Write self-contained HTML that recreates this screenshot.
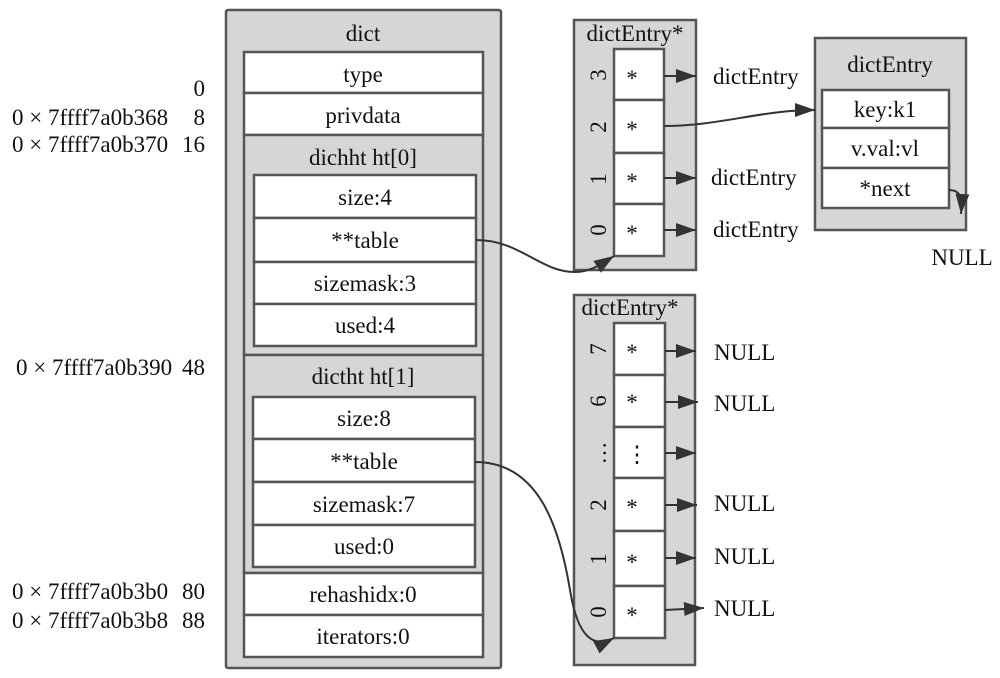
<!DOCTYPE html>
<html><head><meta charset="utf-8"><style>
html,body{margin:0;padding:0;background:#fff;}
svg{display:block;}
text{font-family:"Liberation Serif",serif;font-size:23px;fill:#111;}
</style></head><body>
<svg width="1000" height="678" viewBox="0 0 1000 678" xmlns="http://www.w3.org/2000/svg">
<defs>
<marker id="a" viewBox="0 0 10 10" refX="10" refY="5" markerWidth="20" markerHeight="14" markerUnits="userSpaceOnUse" orient="auto" preserveAspectRatio="none">
<path d="M0,0 L10,5 L0,10 z" fill="#333"/>
</marker>
</defs>
<g stroke="#555" stroke-width="2.5" fill="#d6d6d6">
<rect x="226" y="10" width="275" height="658" rx="2"/>
<rect x="244" y="52" width="239" height="41" fill="#fff"/>
<rect x="244" y="93" width="239" height="42" fill="#fff"/>
<rect x="244" y="135" width="239" height="220" fill="#d6d6d6"/>
<rect x="244" y="355" width="239" height="218" fill="#d6d6d6"/>
<rect x="244" y="573" width="239" height="42" fill="#fff"/>
<rect x="244" y="615" width="239" height="42" fill="#fff"/>
<g fill="#fff">
<rect x="254" y="175" width="222" height="43"/>
<rect x="254" y="218" width="222" height="44"/>
<rect x="254" y="262" width="222" height="42"/>
<rect x="254" y="304" width="222" height="42"/>
<rect x="253" y="397" width="222" height="42"/>
<rect x="253" y="439" width="222" height="43"/>
<rect x="253" y="482" width="222" height="43"/>
<rect x="253" y="525" width="222" height="42"/>
</g>
<rect x="574" y="20" width="122" height="250"/>
<g fill="#fff">
<rect x="614" y="49" width="50" height="51"/>
<rect x="614" y="100" width="50" height="53"/>
<rect x="614" y="153" width="50" height="51"/>
<rect x="614" y="204" width="50" height="52"/>
</g>
<rect x="574" y="295" width="121" height="370"/>
<g fill="#fff">
<rect x="614" y="323" width="51" height="52"/>
<rect x="614" y="375" width="51" height="52"/>
<rect x="614" y="427" width="51" height="51"/>
<rect x="614" y="478" width="51" height="53"/>
<rect x="614" y="531" width="51" height="55"/>
<rect x="614" y="586" width="51" height="52"/>
</g>
<rect x="815" y="38" width="151" height="192"/>
<g fill="#fff">
<rect x="822" y="90" width="127" height="38"/>
<rect x="822" y="128" width="127" height="40"/>
<rect x="822" y="168" width="127" height="40"/>
</g>
</g>

<g text-anchor="middle">
<text x="363" y="41">dict</text>
<text x="363" y="82">type</text>
<text x="363" y="123">privdata</text>
<text x="363" y="165">dichht ht[0]</text>
<text x="365" y="205">size:4</text>
<text x="365" y="248">**table</text>
<text x="365" y="291">sizemask:3</text>
<text x="365" y="333">used:4</text>
<text x="363" y="384">dictht ht[1]</text>
<text x="364" y="426">size:8</text>
<text x="364" y="469">**table</text>
<text x="364" y="512">sizemask:7</text>
<text x="364" y="554">used:0</text>
<text x="363" y="602">rehashidx:0</text>
<text x="363" y="644">iterators:0</text>
<text x="635" y="41">dictEntry*</text>
<text x="630" y="315">dictEntry*</text>
<text x="890" y="72">dictEntry</text>
<text x="885" y="117">key:k1</text>
<text x="885" y="156">v.val:vl</text>
<text x="885" y="196">*next</text>
<text x="962" y="265">NULL</text>
</g>
<g text-anchor="middle">
<text x="632" y="86">*</text><text x="632" y="137">*</text><text x="632" y="189">*</text><text x="632" y="241">*</text>
<text x="632" y="410">*</text><text x="632" y="360">*</text><text x="637" y="462">⋮</text><text x="632" y="515">*</text><text x="632" y="570">*</text><text x="632" y="623">*</text>
</g>
<g text-anchor="middle">
<text transform="translate(606,75) rotate(-90)">3</text>
<text transform="translate(606,127) rotate(-90)">2</text>
<text transform="translate(606,179) rotate(-90)">1</text>
<text transform="translate(606,230) rotate(-90)">0</text>
<text transform="translate(606,349) rotate(-90)">7</text>
<text transform="translate(606,401) rotate(-90)">6</text>
<text transform="translate(606,453) rotate(-90)">…</text>
<text transform="translate(606,505) rotate(-90)">2</text>
<text transform="translate(606,559) rotate(-90)">1</text>
<text transform="translate(606,612) rotate(-90)">0</text>
</g>
<g>
<text x="713" y="84">dictEntry</text>
<text x="711" y="185">dictEntry</text>
<text x="713" y="237">dictEntry</text>
<text x="714" y="360">NULL</text>
<text x="714" y="411">NULL</text>
<text x="714" y="511">NULL</text>
<text x="714" y="564">NULL</text>
<text x="714" y="616">NULL</text>
</g>
<g text-anchor="end">
<text x="205" y="96">0</text>
<text x="205" y="125">8</text>
<text x="205" y="152">16</text>
<text x="205" y="375">48</text>
<text x="205" y="599">80</text>
<text x="205" y="628">88</text>
</g>
<g>
<text x="12" y="125">0 × 7ffff7a0b368</text>
<text x="12" y="152">0 × 7ffff7a0b370</text>
<text x="16" y="375">0 × 7ffff7a0b390</text>
<text x="12" y="599">0 × 7ffff7a0b3b0</text>
<text x="12" y="628">0 × 7ffff7a0b3b8</text>
</g>

<g stroke="#333" stroke-width="2" fill="none" marker-end="url(#a)">
<line x1="664" y1="76" x2="696" y2="76"/>
<line x1="664" y1="178" x2="696" y2="178"/>
<line x1="664" y1="230" x2="696" y2="230"/>
<path d="M664,126 C720,126 760,110 815,110"/>
<path d="M949,190 C962,190 962,200 961,214"/>
<path d="M476,240 C520,240 540,272 575,272 C590,272 600,265 614,256"/>
<path d="M475,462 C540,462 560,530 570,590 C578,640 595,648 614,638"/>
<line x1="665" y1="351" x2="696" y2="351"/>
<line x1="665" y1="402" x2="698" y2="402"/>
<line x1="665" y1="453" x2="696" y2="453"/>
<line x1="665" y1="505" x2="697" y2="505"/>
<line x1="665" y1="558" x2="696" y2="558"/>
<line x1="665" y1="610" x2="704" y2="608"/>
</g>
</svg>
</body></html>
